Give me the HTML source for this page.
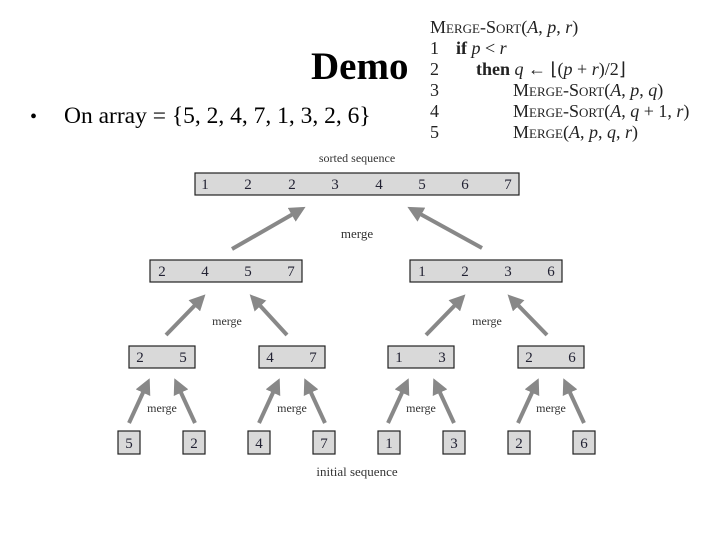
<!DOCTYPE html>
<html><head><meta charset="utf-8"><style>
html,body{margin:0;padding:0;background:#fff;}
svg{display:block;}
.n{font-family:"Liberation Serif",serif;font-size:15px;fill:#223;text-anchor:middle;}
.m{font-family:"Liberation Serif",serif;font-size:12px;fill:#333;text-anchor:middle;}
.c{font-family:"Liberation Serif",serif;font-size:18px;fill:#222;}
.b{fill:#d9d9d9;stroke:#222;stroke-width:1.2;}
.a{stroke:#888;stroke-width:4;fill:none;}
</style></head><body>
<svg width="720" height="540" viewBox="0 0 720 540" xmlns="http://www.w3.org/2000/svg">
<defs><marker id="h" viewBox="0 0 10 10" refX="6" refY="5" markerWidth="4" markerHeight="4" orient="auto"><path d="M0,0 L10,5 L0,10 z" fill="#888"/></marker></defs>
<text x="311" y="79" font-family="Liberation Serif,serif" font-size="39" font-weight="bold">Demo</text>
<text x="30" y="123" font-family="Liberation Serif,serif" font-size="20">•</text>
<text x="64" y="123" font-family="Liberation Serif,serif" font-size="23.5">On array = {5, 2, 4, 7, 1, 3, 2, 6}</text>
<rect x="412" y="8" width="308" height="140" fill="#fff"/>
<text class="c" x="430" y="33">M<tspan font-size="13">ERGE</tspan>-S<tspan font-size="13">ORT</tspan>(<tspan font-style="italic">A</tspan>, <tspan font-style="italic">p</tspan>, <tspan font-style="italic">r</tspan>)</text>
<text class="c" x="430" y="54">1<tspan x="456" font-weight="bold">if</tspan> <tspan font-style="italic">p</tspan> &lt; <tspan font-style="italic">r</tspan></text>
<text class="c" x="430" y="75">2<tspan x="476" font-weight="bold">then</tspan> <tspan font-style="italic">q</tspan> ← ⌊(<tspan font-style="italic">p</tspan> + <tspan font-style="italic">r</tspan>)/2⌋</text>
<text class="c" x="430" y="96">3<tspan x="513">M</tspan><tspan font-size="13">ERGE</tspan>-S<tspan font-size="13">ORT</tspan>(<tspan font-style="italic">A</tspan>, <tspan font-style="italic">p</tspan>, <tspan font-style="italic">q</tspan>)</text>
<text class="c" x="430" y="117">4<tspan x="513">M</tspan><tspan font-size="13">ERGE</tspan>-S<tspan font-size="13">ORT</tspan>(<tspan font-style="italic">A</tspan>, <tspan font-style="italic">q</tspan> + 1, <tspan font-style="italic">r</tspan>)</text>
<text class="c" x="430" y="138">5<tspan x="513">M</tspan><tspan font-size="13">ERGE</tspan>(<tspan font-style="italic">A</tspan>, <tspan font-style="italic">p</tspan>, <tspan font-style="italic">q</tspan>, <tspan font-style="italic">r</tspan>)</text>

<text class="m" x="357" y="162">sorted sequence</text>
<rect class="b" x="195" y="173" width="324" height="22"/>
<g class="n"><text x="205" y="189">1</text><text x="248" y="189">2</text><text x="292" y="189">2</text><text x="335" y="189">3</text><text x="379" y="189">4</text><text x="422" y="189">5</text><text x="465" y="189">6</text><text x="508" y="189">7</text></g>
<line class="a" x1="232" y1="249" x2="300" y2="210" marker-end="url(#h)"/>
<line class="a" x1="482" y1="248" x2="413" y2="210" marker-end="url(#h)"/>
<text class="m" x="357" y="238" style="font-size:13px">merge</text>

<rect class="b" x="150" y="260" width="152" height="22"/>
<g class="n"><text x="162" y="276">2</text><text x="205" y="276">4</text><text x="248" y="276">5</text><text x="291" y="276">7</text></g>
<rect class="b" x="410" y="260" width="152" height="22"/>
<g class="n"><text x="422" y="276">1</text><text x="465" y="276">2</text><text x="508" y="276">3</text><text x="551" y="276">6</text></g>
<line class="a" x1="166" y1="335" x2="201" y2="299" marker-end="url(#h)"/>
<line class="a" x1="287" y1="335" x2="254" y2="299" marker-end="url(#h)"/>
<line class="a" x1="426" y1="335" x2="461" y2="299" marker-end="url(#h)"/>
<line class="a" x1="547" y1="335" x2="512" y2="299" marker-end="url(#h)"/>
<text class="m" x="227" y="325">merge</text><text class="m" x="487" y="325">merge</text>

<g>
<rect class="b" x="129" y="346" width="66" height="22"/><rect class="b" x="259" y="346" width="66" height="22"/>
<rect class="b" x="388" y="346" width="66" height="22"/><rect class="b" x="518" y="346" width="66" height="22"/>
</g>
<g class="n"><text x="140" y="362">2</text><text x="183" y="362">5</text><text x="270" y="362">4</text><text x="313" y="362">7</text><text x="399" y="362">1</text><text x="442" y="362">3</text><text x="529" y="362">2</text><text x="572" y="362">6</text></g>

<g>
<line class="a" x1="129" y1="423" x2="147" y2="384" marker-end="url(#h)"/>
<line class="a" x1="195" y1="423" x2="177" y2="384" marker-end="url(#h)"/>
<line class="a" x1="259" y1="423" x2="277" y2="384" marker-end="url(#h)"/>
<line class="a" x1="325" y1="423" x2="307" y2="384" marker-end="url(#h)"/>
<line class="a" x1="388" y1="423" x2="406" y2="384" marker-end="url(#h)"/>
<line class="a" x1="454" y1="423" x2="436" y2="384" marker-end="url(#h)"/>
<line class="a" x1="518" y1="423" x2="536" y2="384" marker-end="url(#h)"/>
<line class="a" x1="584" y1="423" x2="566" y2="384" marker-end="url(#h)"/>
</g>
<text class="m" x="162" y="412">merge</text><text class="m" x="292" y="412">merge</text><text class="m" x="421" y="412">merge</text><text class="m" x="551" y="412">merge</text>

<g>
<rect class="b" x="118" y="431" width="22" height="23"/><rect class="b" x="183" y="431" width="22" height="23"/>
<rect class="b" x="248" y="431" width="22" height="23"/><rect class="b" x="313" y="431" width="22" height="23"/>
<rect class="b" x="378" y="431" width="22" height="23"/><rect class="b" x="443" y="431" width="22" height="23"/>
<rect class="b" x="508" y="431" width="22" height="23"/><rect class="b" x="573" y="431" width="22" height="23"/>
</g>
<g class="n"><text x="129" y="448">5</text><text x="194" y="448">2</text><text x="259" y="448">4</text><text x="324" y="448">7</text><text x="389" y="448">1</text><text x="454" y="448">3</text><text x="519" y="448">2</text><text x="584" y="448">6</text></g>
<text class="m" x="357" y="476" style="font-size:13px">initial sequence</text>
</svg>
</body></html>
